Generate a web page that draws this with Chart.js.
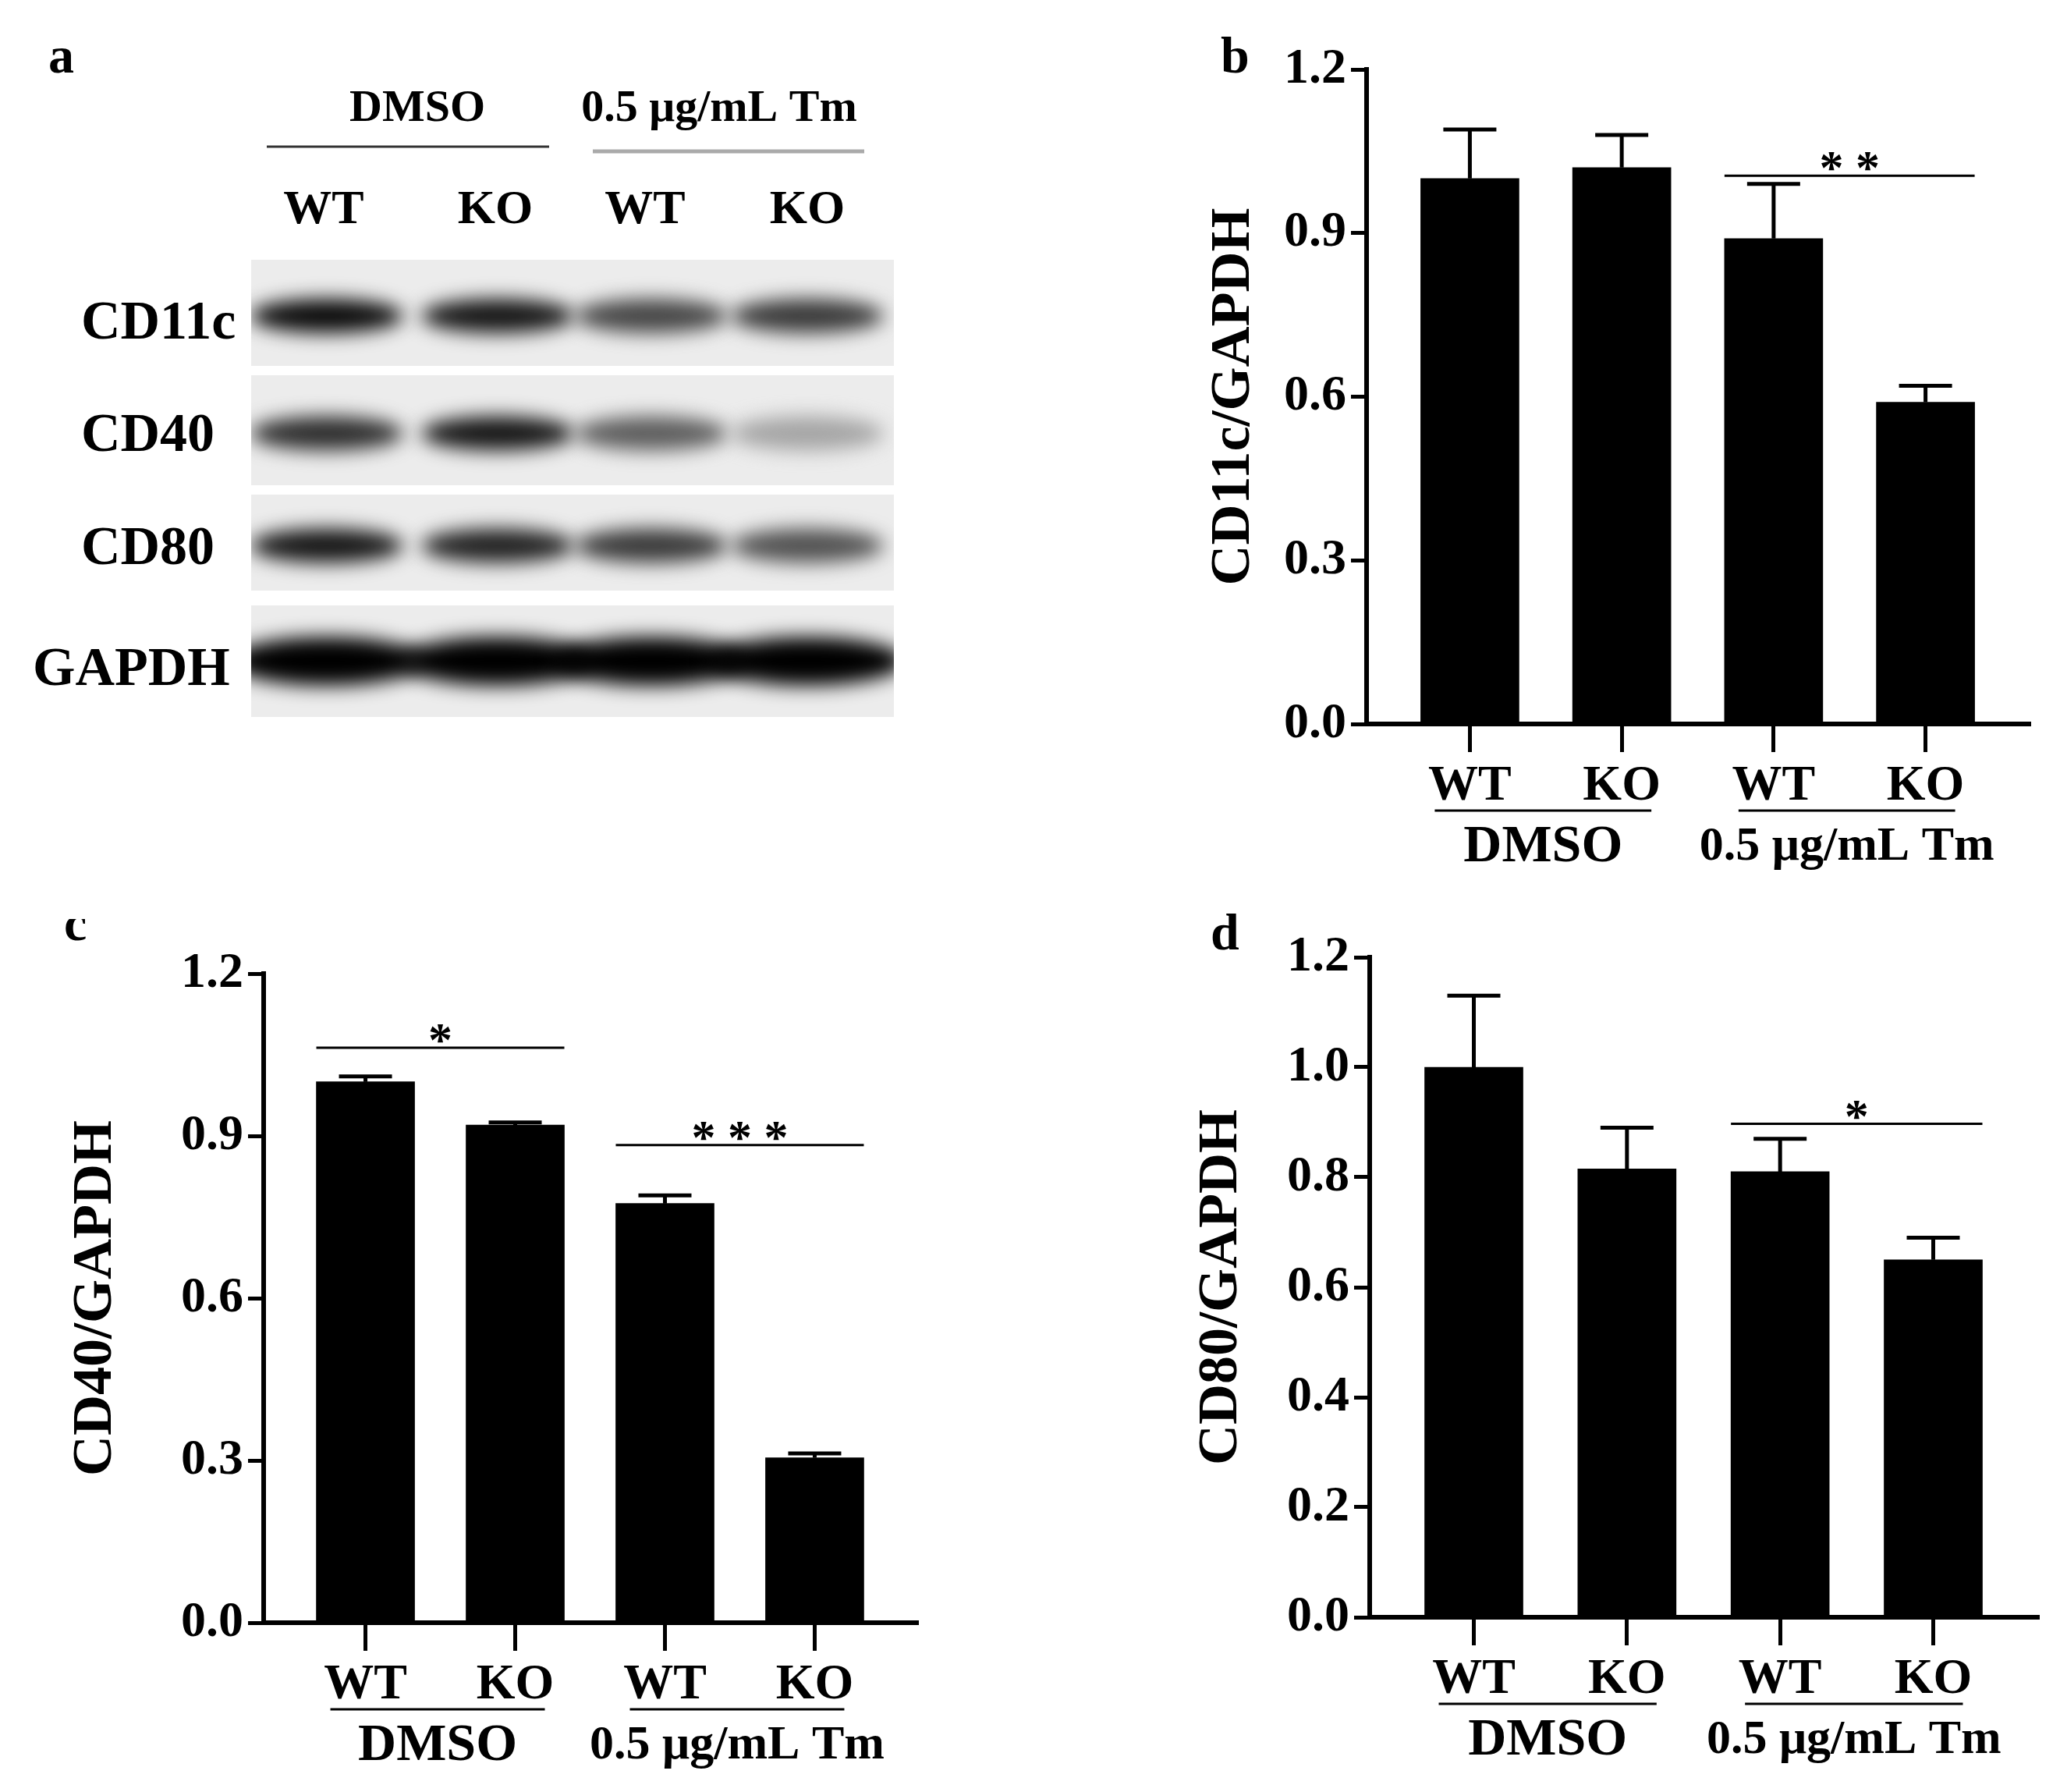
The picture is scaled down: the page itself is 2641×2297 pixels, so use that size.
<!DOCTYPE html>
<html><head><meta charset="utf-8">
<script src="https://cdn.jsdelivr.net/npm/chart.js@4"></script>
<style>body{margin:0;background:#fff;width:2641px;height:2297px;position:relative;overflow:hidden}
canvas{position:absolute}</style></head><body>
<canvas id="blot" width="1300" height="1000" style="left:0;top:0"></canvas>
<canvas id="cb"></canvas><canvas id="cc"></canvas><canvas id="cd"></canvas>
<script>
const categories = ['WT','KO','WT','KO'];
const groups = ['DMSO','0.5 μg/mL Tm'];
const cd11cMean = [1.00, 1.02, 0.89, 0.59];
const cd11cErr  = [0.09, 0.06, 0.10, 0.03];
const cd40Mean  = [1.00, 0.92, 0.775, 0.305];
const cd40Err   = [0.01, 0.005, 0.015, 0.008];
const cd80Mean  = [1.00, 0.815, 0.81, 0.65];
const cd80Err   = [0.13, 0.075, 0.06, 0.04];
const ticksB = [0,0.3,0.6,0.9,1.2];
const ticksD = [0,0.2,0.4,0.6,0.8,1.0,1.2];
const blotRows = ['CD11c','CD40','CD80','GAPDH'];
const blotIntensity = [[0.95,0.9,0.7,0.75],[0.8,0.9,0.6,0.3],[0.9,0.85,0.75,0.65],[1,1,1,1]];

const F = 'bold %spx "Liberation Serif", "Times New Roman", serif';
const font = s => F.replace('%s', s);

// ---- panel a (blot) ----
(function(){
  const c = document.getElementById('blot').getContext('2d');
  c.fillStyle='#000'; c.textBaseline='middle';
  c.font=font(66); c.textAlign='left'; c.fillText('a',62,76);
  c.font=font(58); c.textAlign='center';
  c.fillText(groups[0],535,140); c.fillText(groups[1],922,140);
  c.strokeStyle='#333'; c.lineWidth=3; c.beginPath(); c.moveTo(342,188); c.lineTo(704,188); c.stroke();
  c.strokeStyle='#aaa'; c.lineWidth=5; c.beginPath(); c.moveTo(760,194); c.lineTo(1108,194); c.stroke();
  const laneX=[419,638,835,1035];
  c.font=font(62);
  categories.forEach((t,i)=>c.fillText(t,[415,635,827,1035][i],270));
  const rows=[[333,469],[481,622],[634,757],[776,919]];
  const labX=[104,104,104,42], labY=[416,560,705,860];
  rows.forEach((r,ri)=>{
    c.fillStyle='#ececec'; c.fillRect(322,r[0],824,r[1]-r[0]);
    c.save(); c.beginPath(); c.rect(322,r[0],824,r[1]-r[0]); c.clip();
    c.filter='blur(12px)';
    const mid=(r[0]+r[1])/2+(ri==3?0:4), h=ri==3?62:44;
    laneX.forEach((x,li)=>{
      const v=blotIntensity[ri][li]; const g=Math.round(235*(1-v));
      c.fillStyle=`rgb(${g},${g},${g})`;
      c.beginPath(); c.ellipse(x,mid,ri==3?125:98,h/2,0,0,Math.PI*2); c.fill();
    });
    c.restore();
    c.fillStyle='#000'; c.font=font(70); c.textAlign='left';
    c.fillText(blotRows[ri],labX[ri],labY[ri]);
  });
})();

// ---- bar charts ----
function makeChart(id, geo, mean, err, ticks, title, sig, panel){
  const left=geo.ax-270, top=geo.top-70, right=geo.end+40, bottom=geo.zero+250;
  const cv=document.getElementById(id);
  cv.width=right-left; cv.height=bottom-top;
  cv.style.left=left+'px'; cv.style.top=top+'px';
  const ymax=ticks[ticks.length-1];
  const extras={id:'extras',afterDatasetsDraw(ch){
    const c=ch.ctx, xs=ch.scales.x, ys=ch.scales.y;
    c.save(); c.strokeStyle='#000'; c.fillStyle='#000'; c.lineWidth=5;
    mean.forEach((m,i)=>{
      const x=xs.getPixelForValue(i), y0=ys.getPixelForValue(m), y1=ys.getPixelForValue(m+err[i]);
      c.beginPath(); c.moveTo(x,y0); c.lineTo(x,y1); c.moveTo(x-34,y1); c.lineTo(x+34,y1); c.stroke();
    });
    c.lineWidth=3;
    sig.forEach(s=>{
      const y=ys.getPixelForValue(s.y);
      const x0=xs.getPixelForValue(s.a)-geo.bw/2, x1=xs.getPixelForValue(s.b)+geo.bw/2;
      c.beginPath(); c.moveTo(x0,y); c.lineTo(x1,y); c.stroke();
      c.font=font(62); c.textAlign='center'; c.textBaseline='alphabetic';
      c.fillText(s.t.split('').join(' '),(x0+x1)/2,y+10);
    });
    const zy=ys.getPixelForValue(0);
    c.font=font(64); c.textAlign='center'; c.textBaseline='middle';
    categories.forEach((t,i)=>c.fillText(t,xs.getPixelForValue(i),zy+80));
    c.lineWidth=3;
    [[0,1],[2,3]].forEach((p,gi)=>{
      const x0=xs.getPixelForValue(p[0])-45, x1=xs.getPixelForValue(p[1])+38;
      c.beginPath(); c.moveTo(x0,zy+111); c.lineTo(x1,zy+111); c.stroke();
      c.font=font(gi?62:68);
      c.fillText(groups[gi],(x0+x1)/2,zy+158);
    });
    c.save(); c.translate(geo.tx-left, (ys.top+ys.bottom)/2); c.rotate(-Math.PI/2);
    c.font=font(72); c.fillText(title,0,0); c.restore();
    c.font=font(66); c.textAlign='left'; c.fillText(panel,geo.px-left,geo.py-top);
    c.restore();
  }};
  new Chart(cv,{type:'bar',
    data:{datasets:[{data:mean.map((v,i)=>({x:i,y:v})),backgroundColor:'#000',borderWidth:0,barThickness:geo.bw}]},
    options:{responsive:false,animation:false,devicePixelRatio:1,
      layout:{padding:{top:70,right:40,left:0,bottom:0}},
      plugins:{legend:{display:false},tooltip:{enabled:false}},
      scales:{
        x:{type:'linear',offset:false,min:-0.68,max:3.68,afterBuildTicks:s=>{s.ticks=[0,1,2,3].map(v=>({value:v}))},
          afterFit:s=>{s.height=250},
          ticks:{display:false},grid:{offset:false,drawOnChartArea:false,tickLength:36,color:'#000',lineWidth:5},
          border:{color:'#000',width:6}},
        y:{min:0,max:ymax,afterBuildTicks:s=>{s.ticks=ticks.map(v=>({value:v}))},
          afterFit:s=>{s.width=270},
          ticks:{color:'#000',font:{family:'"Liberation Serif", serif',weight:'bold',size:64},padding:6,
            callback:v=>v.toFixed(1)},
          grid:{drawOnChartArea:false,tickLength:20,color:'#000',lineWidth:5},
          border:{color:'#000',width:6}}
      }},plugins:[extras]});
}
makeChart('cb',{ax:1752,top:89,zero:928,end:2601,bw:126,tx:1582,px:1565,py:76},
  cd11cMean,cd11cErr,ticksB,'CD11c/GAPDH',[{a:2,b:3,y:1.005,t:'**'}],'b');
makeChart('cc',{ax:338,top:1248,zero:2080,end:1175,bw:126,tx:123,px:82,py:1188},
  cd40Mean,cd40Err,ticksB,'CD40/GAPDH',[{a:0,b:1,y:1.063,t:'*'},{a:2,b:3,y:0.883,t:'***'}],'c');
makeChart('cd',{ax:1756,top:1227,zero:2073,end:2612,bw:126,tx:1566,px:1552,py:1200},
  cd80Mean,cd80Err,ticksD,'CD80/GAPDH',[{a:2,b:3,y:0.897,t:'*'}],'d');
</script></body></html>
